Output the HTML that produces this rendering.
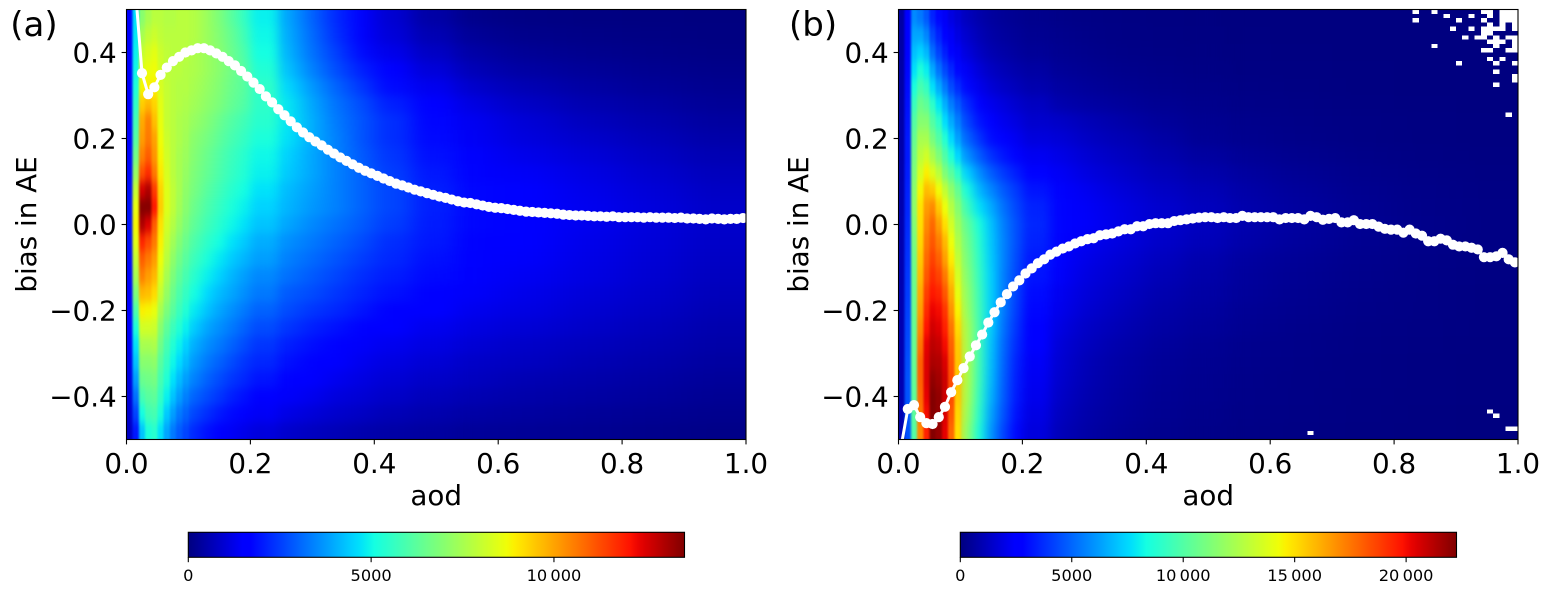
<!DOCTYPE html>
<html lang="en">
<head>
<meta charset="utf-8">
<title>Bias in AE vs aod</title>
<style>
html,body{margin:0;padding:0;background:#fff;width:1552px;height:590px;overflow:hidden}
svg{display:block;font-family:"DejaVu Sans","Liberation Sans",sans-serif;fill:#000}
</style>
</head>
<body>
<svg id="fig" width="1552" height="590" viewBox="0 0 1552 590" xmlns="http://www.w3.org/2000/svg">
  <defs>
    <filter id="soften-fine" filterUnits="userSpaceOnUse" x="-100" y="-100" width="1800" height="800" color-interpolation-filters="sRGB">
      <feGaussianBlur stdDeviation="1 5"/>
    </filter>
    <filter id="soften-mid" filterUnits="userSpaceOnUse" x="-100" y="-100" width="1800" height="800" color-interpolation-filters="sRGB">
      <feGaussianBlur stdDeviation="5 5"/>
    </filter>
    <filter id="soften-broad" filterUnits="userSpaceOnUse" x="-100" y="-100" width="1800" height="800" color-interpolation-filters="sRGB">
      <feGaussianBlur stdDeviation="10 5"/>
    </filter>
    <filter id="soften-wide" filterUnits="userSpaceOnUse" x="-100" y="-100" width="1800" height="800" color-interpolation-filters="sRGB">
      <feGaussianBlur stdDeviation="20 5"/>
    </filter>
    <clipPath id="clip-a"><rect x="126.5" y="9.5" width="619.5" height="430"/></clipPath>
    <clipPath id="clip-b"><rect x="898.5" y="9.5" width="619.5" height="430"/></clipPath>
  </defs>
  <text x="10.3" y="36" font-size="34">(a)</text>
  <text x="789" y="36" font-size="34">(b)</text>
  <text x="436.2" y="505" font-size="27.78" text-anchor="middle">aod</text>
  <text x="1208.2" y="505" font-size="27.78" text-anchor="middle">aod</text>
  <text transform="translate(36 224.5) rotate(-90)" font-size="27.78" text-anchor="middle">bias in AE</text>
  <text transform="translate(808 224.5) rotate(-90)" font-size="27.78" text-anchor="middle">bias in AE</text>
</svg>
<script>
// AOD bin edges of the heatmap columns
const aodEdges = [0,.01,.02,.03,.04,.05,.06,.07,.08,.09,.10,.12,.14,.16,.18,.20,.24,.28,.32,.36,.40,.46,.52,.60,.70,.80,.90,1.0];
// Bias bin centres of the heatmap rows (width 0.04)
const biasCenters = [.48,.44,.40,.36,.32,.28,.24,.20,.16,.12,.08,.04,0,-.04,-.08,-.12,-.16,-.20,-.24,-.28,-.32,-.36,-.40,-.44,-.48];
const biasBinWidth = 0.04;

// Panel (a) counts: one sub-array per aod column, rows top to bottom
const countsA = [
[1500,1500,1500,1500,1550,1600,1650,1700,1750,1800,1900,1950,1950,1900,1800,1750,1650,1550,1450,1350,1250,1150,1050,950,800],
[4700,4800,4900,5000,5200,5500,5800,6100,6600,7200,8000,8600,8800,8500,8000,7500,6800,6000,5200,4700,4300,3800,3200,2600,2000],
[7000,7500,8000,8400,8800,9400,9900,10100,10500,11200,12600,13500,13000,11800,11000,10500,9700,8900,8200,7500,7000,6500,5900,5100,4300],
[7500,7900,8300,8600,8900,9700,10500,10600,11000,11700,13000,13500,12500,11300,10600,10100,9600,8800,8200,7500,7000,6600,6200,5800,5200],
[7800,8100,8500,8700,8900,9300,9600,10000,10200,10600,11500,12000,11000,10600,10100,9700,9200,8600,8100,7600,7100,6700,6300,5900,5400],
[7800,7900,8100,8200,8300,8500,8600,8700,8800,9000,9300,9400,9100,8900,8700,8400,8000,7500,7000,6600,6200,5900,5600,5200,4700],
[7700,7800,7900,7900,8000,8000,8000,8100,8200,8300,8400,8400,8200,8000,7800,7500,7200,6800,6300,5900,5600,5300,4900,4400,3900],
[7700,7800,7800,7800,7800,7800,7800,7800,7800,7800,7900,7900,7700,7400,7100,6800,6500,6200,5700,5300,5000,4700,4300,3800,3300],
[7800,7800,7800,7800,7700,7700,7600,7600,7500,7500,7500,7400,7200,6900,6600,6300,6000,5700,5300,4900,4600,4200,3800,3300,2900],
[7800,7800,7800,7700,7700,7600,7500,7400,7300,7200,7100,7000,6800,6500,6200,5900,5600,5300,4900,4500,4200,3800,3400,3000,2600],
[7700,7700,7600,7600,7500,7400,7200,7000,6900,6800,6700,6500,6300,6000,5700,5400,5100,4800,4400,4000,3700,3400,3000,2600,2200],
[7300,7300,7300,7300,7200,7100,6900,6700,6500,6400,6200,6000,5800,5500,5200,4900,4600,4300,3900,3600,3300,3000,2700,2300,1900],
[6800,6900,7000,7000,6900,6800,6500,6300,6100,6000,5800,5600,5400,5100,4800,4500,4200,3900,3600,3300,3000,2700,2400,2000,1700],
[6200,6400,6500,6600,6500,6400,6100,5900,5700,5600,5400,5200,5000,4700,4400,4100,3900,3600,3300,3000,2700,2400,2100,1800,1400],
[5600,5800,6000,6200,6200,6100,5800,5600,5400,5300,5100,4900,4700,4400,4100,3800,3600,3300,3000,2700,2400,2200,1900,1600,1250],
[4900,5000,5100,5300,5500,5500,5400,5200,5000,4900,4700,4500,4300,4000,3800,3500,3300,3000,2700,2400,2200,1950,1700,1400,1100],
[3900,4000,4100,4300,4600,4800,4800,4700,4500,4400,4200,4100,3900,3600,3400,3200,2900,2700,2400,2100,1900,1700,1450,1200,900],
[3000,3100,3200,3400,3700,3900,4000,4000,3900,3900,3800,3700,3500,3300,3100,2900,2700,2400,2100,1850,1700,1500,1300,1050,750],
[2200,2300,2500,2700,3000,3200,3300,3400,3400,3400,3400,3400,3200,3000,2800,2600,2400,2200,1900,1650,1500,1300,1100,900,650],
[1500,1600,1800,2100,2400,2700,2800,2800,2900,3000,3000,3000,2900,2700,2500,2300,2150,1950,1700,1450,1300,1150,1000,800,550],
[950,1050,1250,1500,1800,2100,2300,2300,2400,2500,2600,2600,2500,2300,2200,2050,1900,1700,1500,1300,1150,1000,850,650,450],
[450,600,800,1050,1300,1550,1750,1800,1900,2000,2100,2100,2050,2000,1900,1800,1650,1500,1300,1150,1000,850,700,550,380],
[130,270,450,650,900,1150,1350,1400,1550,1650,1750,1750,1750,1700,1650,1550,1450,1300,1150,1000,850,750,600,450,300],
[50,130,250,400,600,800,1000,1100,1250,1400,1500,1550,1500,1500,1450,1350,1250,1150,1000,850,750,600,500,380,260],
[30,90,170,290,420,570,720,870,1020,1150,1250,1300,1300,1250,1200,1150,1050,950,850,720,620,510,410,300,200],
[15,50,110,190,290,410,540,670,800,920,1020,1080,1080,1050,1000,950,880,800,700,600,510,410,330,240,150],
[5,25,60,120,190,280,380,490,600,710,800,860,880,850,800,760,700,630,550,470,390,310,240,170,100]
];

// Panel (b) counts: one sub-array per aod column, rows top to bottom
const countsB = [
[700,700,700,720,740,760,780,800,820,850,880,900,920,920,930,940,950,950,950,950,950,950,950,950,900],
[2600,2700,2800,2900,3000,3100,3200,3300,3300,3400,3500,3600,3700,3800,3900,4000,4100,4200,4300,4400,4500,4600,4600,4600,4500],
[5800,6400,7000,7700,8500,9300,10000,10500,10900,11200,11500,11600,11300,11000,10800,10700,10600,10600,10500,10500,10500,10400,10300,10200,10000],
[5400,6400,7400,8600,9700,10700,11400,12300,12900,13600,14400,14900,15000,15200,15500,15800,16200,16500,17000,17500,18000,18000,17800,17500,17000],
[4700,5700,6800,8000,9200,10300,11400,12300,13400,14600,15800,16600,17000,17400,17800,18200,18800,19300,19800,20300,20500,20500,20300,20000,19500],
[3500,4300,5200,6500,7700,9000,10000,11000,12300,13800,15500,17000,17800,18200,18700,19200,19700,20200,20700,21100,21400,21900,22200,22200,22200],
[2900,3500,4200,5300,6500,7800,9000,10000,11200,12800,14300,15500,16500,17300,18000,18700,19400,20000,20400,20900,21300,21600,21900,21900,21800],
[2300,2800,3400,4300,5400,6600,7600,8700,9900,11200,13000,14200,15000,15900,16500,17400,18200,19000,19500,20000,20500,20800,20800,20500,20300],
[1900,2300,2800,3600,4400,5500,6500,7500,8600,10200,11700,12700,13500,14200,14700,15500,16200,16800,17500,18000,18300,18500,18500,18200,17800],
[1600,1900,2300,2900,3700,4700,5500,6300,7500,9000,10500,11400,12000,12500,13000,13500,14000,14500,15100,15500,15600,15600,15500,15200,15000],
[1200,1500,1800,2300,2900,3700,4300,5000,6000,7400,8500,9500,10500,10900,11200,11500,11800,12000,12400,12500,12600,12600,12500,12200,11800],
[850,1050,1300,1700,2100,2700,3200,3900,4800,5900,6800,7700,8500,8800,9000,9200,9400,9500,9600,9500,9500,9400,9200,8900,8500],
[600,750,950,1300,1650,2100,2500,3000,3800,4800,5700,6500,7000,7100,7200,7300,7300,7300,7200,7000,6900,6800,6600,6300,6000],
[450,580,750,1050,1350,1800,2100,2500,3200,4000,4700,5200,5500,5600,5600,5500,5500,5400,5200,5000,4900,4800,4700,4500,4200],
[350,470,600,850,1150,1500,1850,2200,2800,3400,4000,4300,4500,4500,4400,4300,4200,4100,3900,3700,3500,3400,3300,3100,2900],
[250,340,450,680,900,1250,1500,1800,2200,2800,3200,3500,3600,3500,3300,3200,3000,2900,2700,2500,2300,2200,2100,1950,1800],
[190,260,340,480,660,900,1400,1700,2000,2300,2600,2800,2800,2700,2500,2400,2200,2100,1900,1700,1600,1500,1400,1250,1100],
[130,190,250,370,520,720,1100,1350,1650,1900,2200,2350,2400,2250,2050,1900,1750,1600,1400,1250,1100,1050,950,850,750],
[90,130,180,270,400,580,900,1100,1350,1600,1850,2050,2100,1950,1750,1600,1450,1300,1120,950,820,760,700,620,530],
[60,100,140,220,320,470,700,950,1150,1350,1600,1780,1800,1700,1500,1350,1200,1050,900,750,650,590,530,470,400],
[40,70,100,160,240,350,500,700,900,1100,1320,1480,1500,1400,1200,1050,920,800,680,550,470,420,380,330,280],
[20,45,70,110,160,240,340,420,620,840,1050,1180,1200,1100,900,800,700,600,500,400,340,300,270,230,190],
[10,25,40,70,110,170,240,300,450,620,780,880,900,820,650,570,500,420,350,280,240,210,190,160,130],
[3,10,20,40,65,100,140,180,280,400,500,580,600,540,430,370,320,270,220,180,150,130,120,100,80],
[1,5,10,20,33,55,80,100,170,240,300,340,350,320,250,220,190,160,130,110,90,80,70,60,50],
[0,2,5,10,15,27,40,50,90,130,170,190,200,190,150,130,110,100,80,60,50,45,40,30,25],
[0,1,2,4,7,13,20,25,50,70,90,105,110,100,80,65,55,50,40,30,25,22,20,15,12]
];

// Empty (white) bins in panel (b): [bias, [aod values]]
const emptyBinsB = [
[.495,[.835,.865,.945,.955,.975,.985,.995]],
[.485,[.885,.925,.955,.975,.985,.995]],
[.475,[.835,.905,.945,.975,.985,.995]],
[.465,[.955,.975,.995]],
[.455,[.895,.925,.945,.955,.965,.975,.995]],
[.445,[.945,.955]],
[.435,[.915,.935,.945,.965,.985,.995]],
[.425,[.955,.965,.975,.995]],
[.415,[.865,.965,.995]],
[.405,[.945,.955,.985,.995]],
[.385,[.955,.975]],
[.375,[.905,.965,.995]],
[.355,[.965]],
[.345,[.995]],
[.335,[.995]],
[.325,[.965]],
[.255,[.985]],
[-.435,[.955]],
[-.445,[.965]],
[-.475,[.985,.995]],
[-.485,[.665]]
];
const emptyBinsA = [];
const emptyBinSize = 0.01;

// Mean-bias line series
const lineAod = [.005,.015,.025,.035,.045,.055,.065,.075,.085,.095,.105,.115,.125,.135,.145,.155,.165,.175,.185,.195,.205,.215,.225,.235,.245,.255,.265,.275,.285,.295,.305,.315,.325,.335,.345,.355,.365,.375,.385,.395,.405,.415,.425,.435,.445,.455,.465,.475,.485,.495,.505,.515,.525,.535,.545,.555,.565,.575,.585,.595,.605,.615,.625,.635,.645,.655,.665,.675,.685,.695,.705,.715,.725,.735,.745,.755,.765,.775,.785,.795,.805,.815,.825,.835,.845,.855,.865,.875,.885,.895,.905,.915,.925,.935,.945,.955,.965,.975,.985,.995];
const lineBiasA = [.9,.535,.352,.303,.319,.348,.365,.38,.39,.40,
.405,.41,.41,.405,.398,.39,.38,.37,.357,.344,
.33,.315,.298,.284,.268,.254,.24,.226,.214,.203,
.193,.184,.174,.165,.156,.148,.14,.132,.125,.119,
.113,.107,.101,.095,.091,.086,.081,.077,.073,.069,
.065,.062,.058,.054,.051,.05,.047,.044,.041,.039,
.038,.036,.034,.032,.03,.029,.028,.027,.026,.025,
.023,.022,.021,.021,.02,.019,.019,.018,.019,.017,
.017,.017,.017,.016,.017,.016,.016,.016,.015,.016,
.014,.014,.013,.012,.014,.013,.012,.013,.013,.015];
const lineBiasB = [-.51,-.429,-.42,-.448,-.462,-.464,-.448,-.424,-.39,-.362,
-.334,-.307,-.281,-.256,-.228,-.204,-.181,-.162,-.144,-.13,
-.114,-.102,-.09,-.081,-.07,-.063,-.056,-.051,-.044,-.039,
-.034,-.032,-.025,-.023,-.021,-.016,-.011,-.011,-.004,-.004,
.001,.003,.003,.003,.008,.01,.012,.014,.016,
.017,.017,.015,.017,.015,.015,.02,.017,.017,.017,.017,.017,.012,.015,.015,.015,.012,.02,.017,.011,.013,.015,.005,.005,.01,.001,.001,.001,-.005,-.01,-.012,-.012,-.019,-.012,-.021,-.026,-.039,-.039,-.033,-.037,-.047,-.051,-.051,-.054,-.058,-.076,-.076,-.074,-.066,-.081,-.088];

// Tick labels
const xTicks = [0,0.2,0.4,0.6,0.8,1.0];
const xTickLabels = ["0.0","0.2","0.4","0.6","0.8","1.0"];
const yTicks = [0.4,0.2,0,-0.2,-0.4];
const yTickLabels = ["0.4","0.2","0.0","\u22120.2","\u22120.4"];
const cbarTicksA = [0,5000,10000];
const cbarTickLabelsA = ["0","5000","10\u2009000"];
const cbarTicksB = [0,5000,10000,15000,20000];
const cbarTickLabelsB = ["0","5000","10\u2009000","15\u2009000","20\u2009000"];
const vmaxA = 13570;
const vmaxB = 22260;

const NS = "http://www.w3.org/2000/svg";
const fig = document.getElementById("fig");
function mk(tag, parent, attrs){
  const el = document.createElementNS(NS, tag);
  for (const k in attrs) el.setAttribute(k, attrs[k]);
  parent.appendChild(el);
  return el;
}
function seg(v, pts){
  for (let i = 1; i < pts.length; i++){
    if (v <= pts[i][0]){
      const a = pts[i-1], b = pts[i];
      return a[1] + (b[1]-a[1])*(v-a[0])/(b[0]-a[0]);
    }
  }
  return pts[pts.length-1][1];
}
function jet(t){
  t = Math.max(0, Math.min(1, t));
  const r = seg(t, [[0,0],[.35,0],[.66,1],[.89,1],[1,.5]]);
  const g = seg(t, [[0,0],[.125,0],[.375,1],[.64,1],[.91,0],[1,0]]);
  const b = seg(t, [[0,.5],[.11,1],[.34,1],[.65,0],[1,0]]);
  return "rgb(" + Math.round(r*255) + "," + Math.round(g*255) + "," + Math.round(b*255) + ")";
}

const plotTop = 9.5, plotH = 430, plotW = 619.5;
const TICK = 4.9;
// Softening layers: wide columns get a wider smoothing than the narrow ones on the left
const softenLayers = [["soften-wide",1.0],["soften-broad",0.52],["soften-mid",0.24],["soften-fine",0.10]];

function drawPanel(id, x0, counts, vmax, bias, emptyBins, cbarTicks, cbarLabels){
  const sx = v => x0 + plotW*v;
  const sy = v => plotTop + plotH*(0.5 - v);
  const panel = mk("g", fig, {});
  
  

  const clip = mk("g", panel, {"clip-path":"url(#clip-"+id+")"});
  
  

  softenLayers.forEach(layer => {
    const heat = mk("g", clip, {filter:"url(#"+layer[0]+")", "shape-rendering":"crispEdges"});
    
    
    counts.forEach((col, i) => {
      if (aodEdges[i+1] > layer[1] + 1e-9) return;
      let xa = sx(aodEdges[i]), xb = sx(aodEdges[i+1]);
      if (i === 0) xa -= 70;
      if (i === counts.length-1) xb += 70;
      col.forEach((val, j) => {
        let ya = sy(biasCenters[j] + biasBinWidth/2), yb = sy(biasCenters[j] - biasBinWidth/2);
        if (j === 0) ya -= 60;
        if (j === col.length-1) yb += 60;
        const cell = mk("rect", heat, {x:xa, y:ya, width:xb-xa, height:yb-ya, fill:jet(val/vmax)});
        
        
      });
    });
  });

  emptyBins.forEach(row => {
    row[1].forEach(a => {
      const hole = mk("rect", clip, {
        x:sx(a-emptyBinSize/2), y:sy(row[0]+emptyBinSize/2),
        width:sx(a+emptyBinSize/2)-sx(a-emptyBinSize/2),
        height:sy(row[0]-emptyBinSize/2)-sy(row[0]+emptyBinSize/2),
        fill:"#fff", "shape-rendering":"crispEdges"
      });
      
      
    });
  });

  const d = bias.map((v,i) => (i ? "L" : "M") + sx(lineAod[i]).toFixed(2) + " " + sy(v).toFixed(2)).join("");
  const line = mk("path", clip, {d:d, fill:"none", stroke:"#fff", "stroke-width":3, "stroke-linejoin":"round"});
  
  
  bias.forEach((v,i) => {
    const pt = mk("circle", clip, {cx:sx(lineAod[i]), cy:sy(v), r:5.1, fill:"#fff"});
    
    
  });

  const frame = mk("rect", panel, {x:x0, y:plotTop, width:plotW, height:plotH, fill:"none", stroke:"#000", "stroke-width":1.1});
  
  

  xTicks.forEach((t,i) => {
    const px = sx(t);
    const tk = mk("line", panel, {x1:px, x2:px, y1:plotTop+plotH, y2:plotTop+plotH+TICK, stroke:"#000", "stroke-width":1.1});
    
    
    const lb = mk("text", panel, {x:px, y:473, "font-size":27.78, "text-anchor":"middle"});
    lb.textContent = xTickLabels[i];
    
    
  });
  yTicks.forEach((t,i) => {
    const py = sy(t);
    const tk = mk("line", panel, {x1:x0-TICK, x2:x0, y1:py, y2:py, stroke:"#000", "stroke-width":1.1});
    
    
    const lb = mk("text", panel, {x:x0-TICK-4.9, y:py+10.1, "font-size":27.78, "text-anchor":"end"});
    lb.textContent = yTickLabels[i];
    
    
  });

  // Colorbar
  const cx0 = x0 + 61.8, cw = 496.2, cy0 = 532.3, ch = 25;
  const cbar = mk("g", panel, {});
  
  
  const sc = v => cx0 + cw*v/vmax;
  const gradId = "jet-" + id;
  const grad = mk("linearGradient", cbar, {id:gradId, x1:0, x2:1, y1:0, y2:0});
  for (let s = 0; s <= 64; s++){
    mk("stop", grad, {offset:s/64, "stop-color":jet(s/64)});
  }
  const bar = mk("rect", cbar, {x:cx0, y:cy0, width:cw, height:ch, fill:"url(#"+gradId+")", stroke:"#000", "stroke-width":1.1});
  
  
  cbarTicks.forEach((t,i) => {
    const px = sc(t);
    const tk = mk("line", cbar, {x1:px, x2:px, y1:cy0+ch, y2:cy0+ch+TICK, stroke:"#000", "stroke-width":1.1});
    
    
    const lb = mk("text", cbar, {x:px, y:581, "font-size":16.2, "text-anchor":"middle"});
    lb.textContent = cbarLabels[i];
    
    
  });
}

drawPanel("a", 126.5, countsA, vmaxA, lineBiasA, emptyBinsA, cbarTicksA, cbarTickLabelsA);
drawPanel("b", 898.5, countsB, vmaxB, lineBiasB, emptyBinsB, cbarTicksB, cbarTickLabelsB);
</script>
</body>
</html>
